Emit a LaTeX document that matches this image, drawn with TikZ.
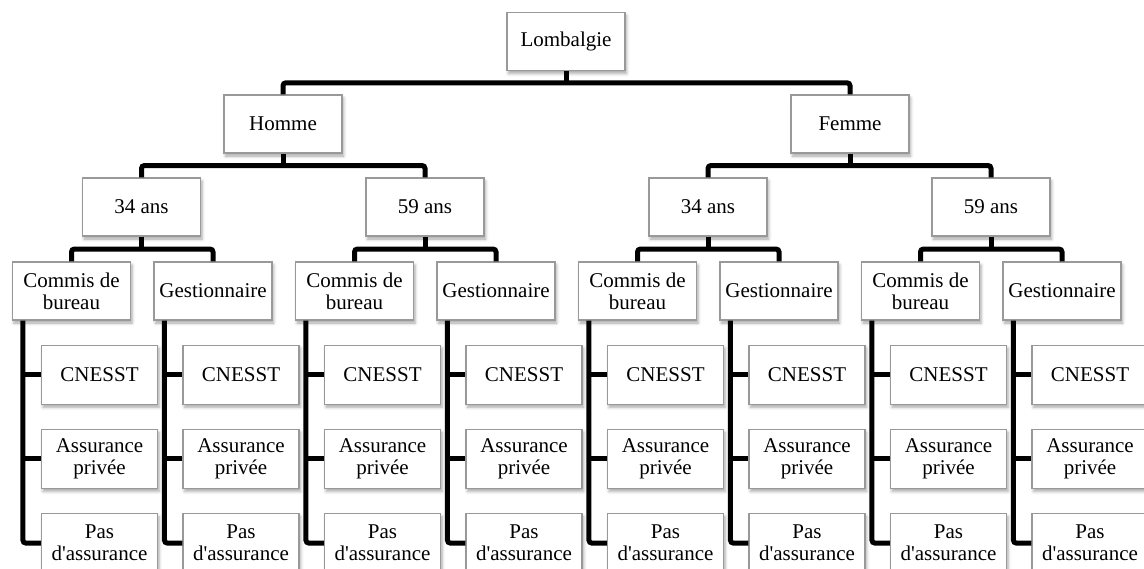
\documentclass[tikz,border=0pt]{standalone}
\usepackage{fontspec}
\setmainfont{Liberation Serif}
\usepackage{tikz}
\usetikzlibrary{positioning,calc,shadows.blur}
\colorlet{lbborder}{black!40}
\colorlet{lbline}{black}
\tikzset{
  lbnode/.style={
    draw=lbborder,
    fill=white,
    line width=1.2pt,
    align=center,
    inner sep=2pt,
    font=\fontsize{21}{22}\selectfont,
    blur shadow={shadow xshift=1.5pt,shadow yshift=-3pt,
                 shadow blur radius=3pt,shadow opacity=35}
  },
  lbbox/.style={lbnode,minimum width=118pt,minimum height=58pt},
  lbleaf/.style={lbnode,minimum width=116pt,minimum height=59pt},
  lblink/.style={line width=5pt,lbline,rounded corners=3pt}
}
% parent #1 split into children #2 and #3
\newcommand\lbbranch[3]{%
  \coordinate (#1bus) at ($(#1.south)!.5!(#1.south |- #2.north)$);
  \draw[lblink] (#1.south) -- (#1bus);
  \draw[lblink] (#2.north) |- (#1bus) -| (#3.north);}

\begin{document}
\begin{tikzpicture}[x=1pt,y=-1pt]
  \useasboundingbox (0,0) rectangle (1144,568);

  \node[lbbox] (lomb) at (566,41.5) {Lombalgie};
  \node[lbbox] (homme) at (283,124) {Homme};
  \node[lbbox] (femme) at (850,124) {Femme};

  \node[lbbox] (h34) at (141.5,207) {34 ans};
  \node[lbbox] (h59) at (425,207) {59 ans};
  \node[lbbox] (f34) at (708,207) {34 ans};
  \node[lbbox] (f59) at (991,207) {59 ans};

  \node[lbbox] (h34c) at (71.5,291) {Commis de\\bureau};
  \node[lbbox] (h34g) at (213,291) {Gestionnaire};
  \node[lbbox] (h59c) at (354.5,291) {Commis de\\bureau};
  \node[lbbox] (h59g) at (496,291) {Gestionnaire};
  \node[lbbox] (f34c) at (637.5,291) {Commis de\\bureau};
  \node[lbbox] (f34g) at (779,291) {Gestionnaire};
  \node[lbbox] (f59c) at (920.5,291) {Commis de\\bureau};
  \node[lbbox] (f59g) at (1062,291) {Gestionnaire};

  \lbbranch{lomb}{homme}{femme}
  \lbbranch{homme}{h34}{h59}
  \lbbranch{femme}{f34}{f59}
  \lbbranch{h34}{h34c}{h34g}
  \lbbranch{h59}{h59c}{h59g}
  \lbbranch{f34}{f34c}{f34g}
  \lbbranch{f59}{f59c}{f59g}

  % insurance leaves hanging under each job
  \foreach \job in {h34c,h34g,h59c,h59g,f34c,f34g,f59c,f59g} {
    \node[lbleaf,anchor=north west] (\job1)
      at ([xshift=29pt,yshift=-24pt]\job.south west) {CNESST};
    \node[lbleaf,below=24pt of \job1] (\job2) {Assurance\\privée};
    \node[lbleaf,below=24pt of \job2] (\job3) {Pas\\d\textquotesingle assurance};
    \coordinate (\job t) at ([xshift=11pt]\job.south west);
    \draw[lblink] (\job t) |- (\job3.west);
    \draw[lblink] (\job t |- \job1.west) -- (\job1.west);
    \draw[lblink] (\job t |- \job2.west) -- (\job2.west);
  }
\end{tikzpicture}
\end{document}
